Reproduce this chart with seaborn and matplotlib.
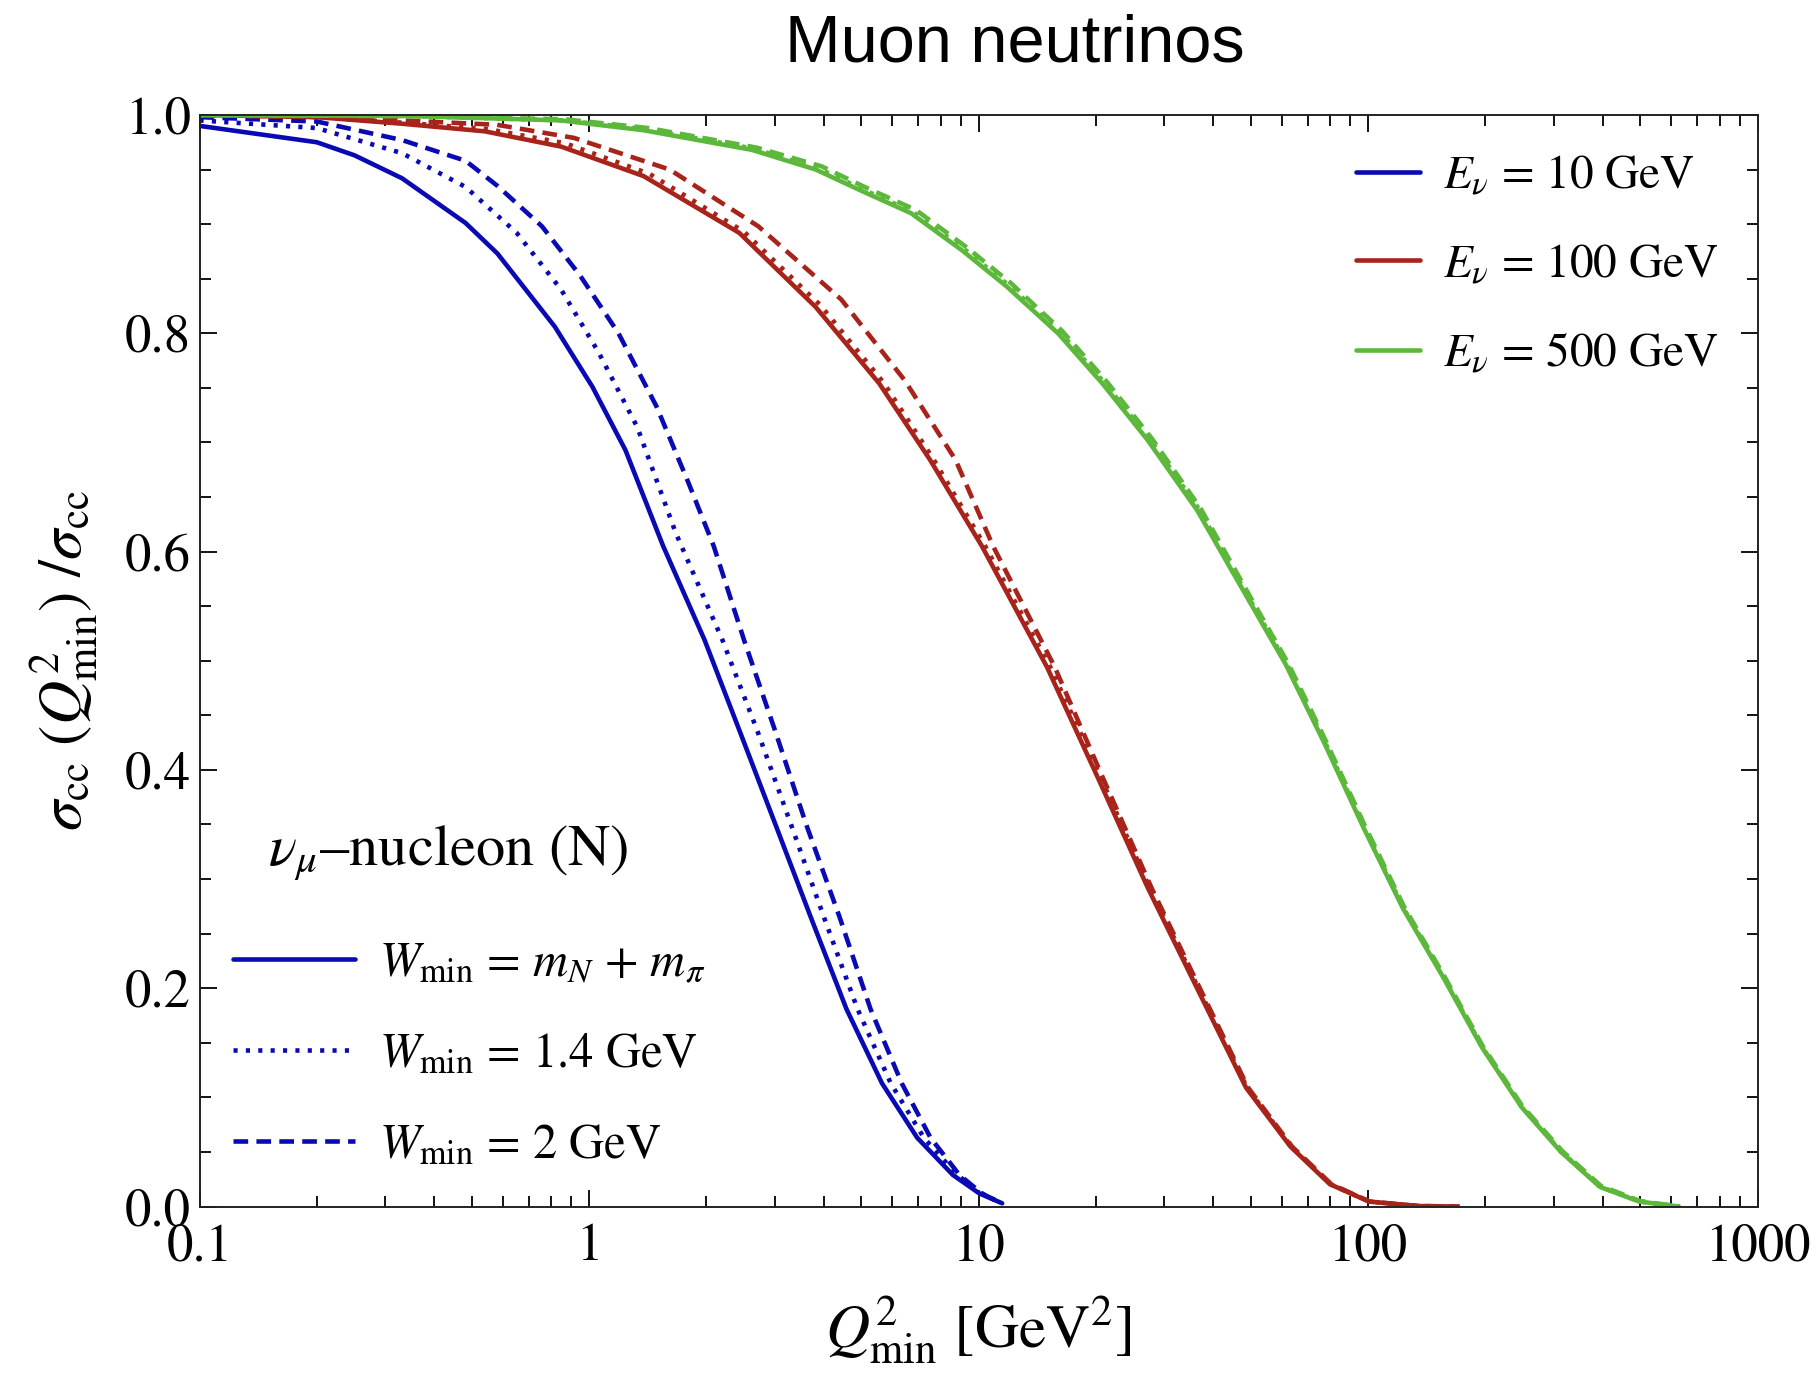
import numpy as np
import pandas as pd
import seaborn as sns
from matplotlib import pyplot as plt
from matplotlib.lines import Line2D
from matplotlib.ticker import FixedLocator, NullFormatter, FuncFormatter

# E_nu = 10 GeV
q2_10_pi = [0.1, 0.2, 0.25, 0.331, 0.482, 0.582, 0.817, 1.02, 1.24, 1.55, 1.98, 2.44, 3.01, 3.71, 4.58, 5.65, 6.96, 8.59, 10.05, 11.5]
r_10_pi = [0.99, 0.975, 0.963, 0.942, 0.901, 0.873, 0.806, 0.751, 0.693, 0.605, 0.519, 0.435, 0.350, 0.265, 0.181, 0.113, 0.063, 0.029, 0.012, 0.003]
q2_10_14 = [0.1, 0.2, 0.331, 0.482, 0.652, 0.848, 1.06, 1.33, 1.67, 2.20, 2.71, 3.30, 4.01, 4.89, 5.95, 7.24, 8.81, 10.2, 11.3]
r_10_14 = [0.995, 0.988, 0.965, 0.934, 0.892, 0.840, 0.782, 0.714, 0.617, 0.519, 0.435, 0.350, 0.265, 0.181, 0.113, 0.063, 0.029, 0.012, 0.004]
q2_10_2 = [0.1, 0.2, 0.331, 0.482, 0.582, 0.757, 0.948, 1.19, 1.49, 1.80, 2.09, 2.50, 3.01, 3.61, 4.40, 5.28, 6.35, 7.53, 8.93, 10.2, 11.3]
r_10_2 = [0.998, 0.994, 0.977, 0.958, 0.935, 0.898, 0.853, 0.800, 0.733, 0.663, 0.605, 0.519, 0.435, 0.350, 0.265, 0.181, 0.113, 0.063, 0.029, 0.012, 0.004]

# E_nu = 100 GeV
q2_100_pi = [0.1, 0.2, 0.33, 0.54, 0.848, 1.38, 2.43, 3.82, 5.56, 7.51, 10.2, 15.0, 20.3, 27.2, 36.4, 48.6, 63.2, 79.8, 100.5, 134, 170]
r_100_pi = [1.0, 0.998, 0.992, 0.985, 0.971, 0.944, 0.892, 0.824, 0.754, 0.684, 0.605, 0.494, 0.392, 0.292, 0.200, 0.109, 0.055, 0.0205, 0.0046, 0.0005, 0.0]
q2_100_14 = [0.1, 0.2, 0.33, 0.55, 0.87, 1.43, 2.50, 3.92, 5.70, 7.65, 10.4, 15.3, 20.6, 27.5, 36.7, 48.9, 63.5, 80.1, 100.8, 134, 171]
r_100_14 = [1.0, 0.998, 0.993, 0.987, 0.974, 0.946, 0.893, 0.826, 0.755, 0.685, 0.605, 0.494, 0.393, 0.292, 0.200, 0.109, 0.055, 0.0205, 0.0046, 0.0005, 0.0]
q2_100_2 = [0.1, 0.2, 0.33, 0.58, 0.914, 1.61, 2.72, 4.44, 6.46, 8.73, 10.9, 15.7, 20.9, 27.8, 37.0, 49.2, 63.8, 80.5, 101, 135, 172]
r_100_2 = [1.0, 0.998, 0.995, 0.991, 0.979, 0.950, 0.898, 0.831, 0.757, 0.684, 0.605, 0.494, 0.392, 0.292, 0.200, 0.109, 0.055, 0.0205, 0.0046, 0.0005, 0.0]

# E_nu = 500 GeV
q2_500_pi = [0.1, 0.35, 0.848, 1.38, 2.62, 3.82, 4.97, 6.71, 9.07, 11.8, 16.0, 20.8, 27.2, 36.4, 48.6, 61.4, 77.4, 97.7, 123, 156, 196, 248, 313, 394, 497, 628]
r_500_pi = [1.0, 0.999, 0.995, 0.986, 0.968, 0.950, 0.931, 0.910, 0.876, 0.843, 0.800, 0.754, 0.702, 0.638, 0.560, 0.497, 0.424, 0.346, 0.273, 0.210, 0.146, 0.091, 0.050, 0.018, 0.0046, 0.0]
q2_500_14 = [0.1, 0.35, 0.86, 1.40, 2.66, 3.88, 5.03, 6.8, 9.2, 11.95, 16.2, 21.0, 27.5, 36.8, 49.0, 61.9, 77.9, 98.2, 123.5, 156.5, 196.5, 248.5, 314, 395, 498, 630]
r_500_14 = [1.0, 0.999, 0.995, 0.987, 0.969, 0.951, 0.932, 0.911, 0.877, 0.844, 0.801, 0.755, 0.703, 0.639, 0.560, 0.497, 0.424, 0.346, 0.273, 0.210, 0.146, 0.091, 0.050, 0.018, 0.0046, 0.0]
q2_500_2 = [0.1, 0.35, 0.87, 1.42, 2.7, 3.95, 5.1, 6.9, 9.3, 12.1, 16.4, 21.3, 27.8, 37.1, 49.4, 62.3, 78.3, 98.7, 124, 157, 197, 249, 315, 396, 500, 632]
r_500_2 = [1.0, 0.999, 0.996, 0.988, 0.970, 0.953, 0.934, 0.913, 0.879, 0.846, 0.802, 0.756, 0.704, 0.640, 0.561, 0.498, 0.425, 0.347, 0.274, 0.211, 0.147, 0.092, 0.051, 0.019, 0.005, 0.0]

energies = ['10', '100', '500']
wmins = ['pi', '1.4', '2']
series = {
    ('10', 'pi'): (q2_10_pi, r_10_pi), ('10', '1.4'): (q2_10_14, r_10_14), ('10', '2'): (q2_10_2, r_10_2),
    ('100', 'pi'): (q2_100_pi, r_100_pi), ('100', '1.4'): (q2_100_14, r_100_14), ('100', '2'): (q2_100_2, r_100_2),
    ('500', 'pi'): (q2_500_pi, r_500_pi), ('500', '1.4'): (q2_500_14, r_500_14), ('500', '2'): (q2_500_2, r_500_2),
}
rows = []
for (e, w), (xs, ys) in series.items():
    for x, y in zip(xs, ys):
        rows.append({'q2': x, 'ratio': y, 'energy': e, 'wmin': w})
df = pd.DataFrame(rows)

colors = {'10': '#0a0ab4', '100': '#a8241a', '500': '#5cb83a'}
dashes = {'pi': '', '1.4': (0.9, 1.8), '2': (3.2, 1.8)}
LW = 3.3

sns.set_theme(style='ticks')
plt.rcParams['font.family'] = ['STIXGeneral', 'DejaVu Serif']
plt.rcParams['mathtext.fontset'] = 'stix'
plt.rcParams['text.color'] = 'black'
plt.rcParams['axes.labelcolor'] = 'black'

fig = plt.figure(figsize=(18.19, 13.75), dpi=100)
ax = fig.add_axes([0.1097, 0.1225, 0.8565, 0.7939])

sns.lineplot(data=df, x='q2', y='ratio', hue='energy', style='wmin',
             hue_order=energies, style_order=wmins, palette=colors, dashes=dashes,
             estimator=None, sort=False, linewidth=LW, legend=False, ax=ax)

ax.set_xscale('log')
ax.set_xlim(0.1, 1000)
ax.set_ylim(0, 1.0)
ax.xaxis.set_major_locator(FixedLocator([0.1, 1, 10, 100, 1000]))
ax.xaxis.set_major_formatter(FuncFormatter(lambda v, p: {0.1: '0.1', 1: '1', 10: '10', 100: '100', 1000: '1000'}.get(round(v, 1), '')))
minor_x = [m * 10.0 ** k for k in range(-1, 3) for m in range(2, 10)]
ax.xaxis.set_minor_locator(FixedLocator(minor_x))
ax.xaxis.set_minor_formatter(NullFormatter())
ax.yaxis.set_major_locator(FixedLocator([0.0, 0.2, 0.4, 0.6, 0.8, 1.0]))
ax.yaxis.set_major_formatter(FuncFormatter(lambda v, p: f'{v:.1f}'))
ax.yaxis.set_minor_locator(FixedLocator(np.arange(0.05, 1.0, 0.05)))
ax.tick_params(which='both', direction='in', top=True, right=True, width=1.3,
               color='black', labelcolor='black')
ax.tick_params(which='major', length=12, labelsize=38)
ax.tick_params(axis='x', which='major', pad=12)
ax.tick_params(axis='y', which='major', pad=6)
ax.tick_params(which='minor', length=8)
for s in ax.spines.values():
    s.set_linewidth(1.4)
    s.set_color('#222222')

ax.set_xlabel(r'$Q^2_{\rm min}$ [GeV$^2$]', fontsize=44, labelpad=16)
ax.set_ylabel(r'$\sigma_{\rm cc}\ (Q^2_{\rm min})\ /\sigma_{\rm cc}$', fontsize=44, labelpad=18)

fig.text(0.558, 0.968, 'Muon neutrinos', fontsize=48, family='Liberation Sans',
         color='black', ha='center', va='center')

e_handles = [Line2D([], [], color=colors[e], lw=LW) for e in energies]
e_labels = [r'$E_{\nu}$ = 10 GeV', r'$E_{\nu}$ = 100 GeV', r'$E_{\nu}$ = 500 GeV']
leg1 = ax.legend(e_handles, e_labels, loc='upper left', bbox_to_anchor=(0.727, 0.985),
                 frameon=False, fontsize=34, handlelength=1.35, handletextpad=0.5,
                 labelspacing=0.95, borderpad=0)
ax.add_artist(leg1)

w_handles = [Line2D([], [], color=colors['10'], lw=LW, linestyle=ls)
             for ls in ['-', (0, (0.9, 1.8)), (0, (3.2, 1.8))]]
w_labels = [r'$W_{\rm min}$ = $m_N$ + $m_\pi$', r'$W_{\rm min}$ = 1.4 GeV', r'$W_{\rm min}$ = 2 GeV']
ax.legend(w_handles, w_labels, loc='lower left', bbox_to_anchor=(0.006, 0.012),
          frameon=False, fontsize=35, handlelength=2.5, handletextpad=0.5,
          labelspacing=0.95, borderpad=0)

ax.text(0.044, 0.324, r'$\nu_\mu$–nucleon (N)', transform=ax.transAxes,
        fontsize=42, ha='left', va='center')

fig.savefig('out.png', dpi=100, facecolor='white')
